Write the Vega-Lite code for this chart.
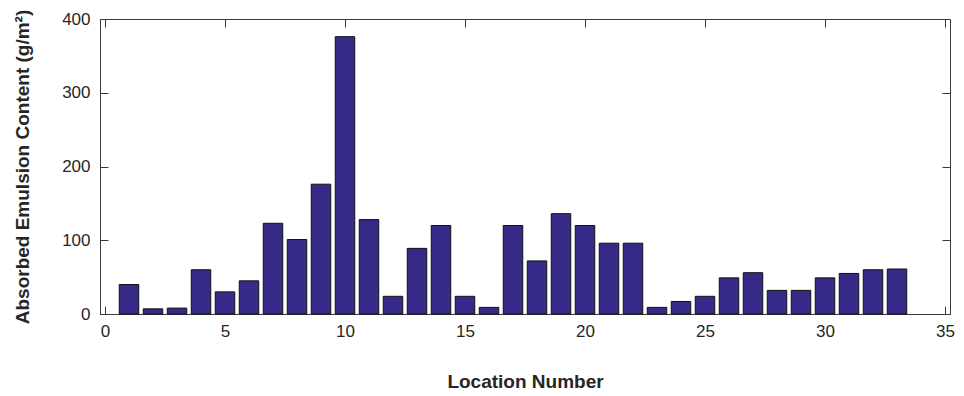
{
  "$schema": "https://vega.github.io/schema/vega-lite/v6.json",
  "width": 850,
  "height": 295,
  "autosize": "none",
  "padding": {"left": 100, "top": 19, "right": 14, "bottom": 82},
  "background": "white",
  "config": {
    "view": {"stroke": "#3a3a3a", "strokeWidth": 1},
    "axis": {
      "domainColor": "#3a3a3a",
      "tickColor": "#3a3a3a",
      "labelColor": "#262626",
      "titleColor": "#262626",
      "labelFont": "Liberation Sans",
      "titleFont": "Liberation Sans",
      "labelFontSize": 17,
      "titleFontSize": 19,
      "titleFontWeight": "bold",
      "grid": false,
      "tickSize": -8
    }
  },
  "data": {
    "values": [
      {"loc": 1, "v": 40}, {"loc": 2, "v": 7}, {"loc": 3, "v": 8}, {"loc": 4, "v": 60},
      {"loc": 5, "v": 30}, {"loc": 6, "v": 45}, {"loc": 7, "v": 123}, {"loc": 8, "v": 101},
      {"loc": 9, "v": 176}, {"loc": 10, "v": 376}, {"loc": 11, "v": 128}, {"loc": 12, "v": 24},
      {"loc": 13, "v": 89}, {"loc": 14, "v": 120}, {"loc": 15, "v": 24}, {"loc": 16, "v": 9},
      {"loc": 17, "v": 120}, {"loc": 18, "v": 72}, {"loc": 19, "v": 136}, {"loc": 20, "v": 120},
      {"loc": 21, "v": 96}, {"loc": 22, "v": 96}, {"loc": 23, "v": 9}, {"loc": 24, "v": 17},
      {"loc": 25, "v": 24}, {"loc": 26, "v": 49}, {"loc": 27, "v": 56}, {"loc": 28, "v": 32},
      {"loc": 29, "v": 32}, {"loc": 30, "v": 49}, {"loc": 31, "v": 55}, {"loc": 32, "v": 60},
      {"loc": 33, "v": 61}
    ]
  },
  "layer": [
    {
      "mark": {"type": "bar", "size": 19.5, "fill": "#352a87", "stroke": "#111111", "strokeWidth": 1},
      "encoding": {
        "x": {
          "field": "loc", "type": "quantitative",
          "scale": {"domain": [0, 35], "nice": false, "zero": false},
          "axis": {"orient": "bottom", "values": [0, 5, 10, 15, 20, 25, 30, 35], "title": "Location Number", "labelPadding": 17, "titlePadding": 33}
        },
        "y": {
          "field": "v", "type": "quantitative",
          "scale": {"domain": [0, 400], "nice": false},
          "axis": {"orient": "left", "values": [0, 100, 200, 300, 400], "title": "Absorbed Emulsion Content (g/m²)", "labelPadding": 18, "titlePadding": 29}
        }
      }
    },
    {
      "mark": {"type": "point", "opacity": 0},
      "encoding": {
        "x": {
          "field": "loc", "type": "quantitative",
          "axis": {"orient": "top", "values": [0, 5, 10, 15, 20, 25, 30, 35], "labels": false, "title": null, "domain": false}
        },
        "y": {
          "field": "v", "type": "quantitative",
          "axis": {"orient": "right", "values": [0, 100, 200, 300, 400], "labels": false, "title": null, "domain": false}
        }
      }
    }
  ],
  "resolve": {"axis": {"x": "independent", "y": "independent"}}
}
